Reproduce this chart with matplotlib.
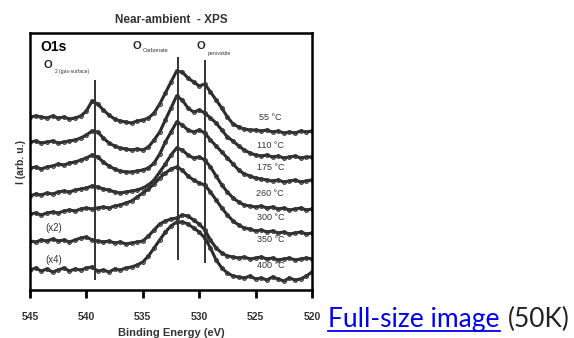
import matplotlib
matplotlib.use("Agg")
import matplotlib.pyplot as plt
from matplotlib.lines import Line2D
import numpy as np

# binding energy grid (eV), shared by all spectra
energy = [545, 544.5, 544, 543.5, 543, 542.5, 542, 541.5, 541, 540.5,
          540, 539.5, 539, 538.5, 538, 537.5, 537, 536.5, 536, 535.5,
          535, 534.5, 534, 533.5, 533, 532.5, 532, 531.5, 531, 530.5,
          530, 529.5, 529, 528.5, 528, 527.5, 527, 526.5, 526, 525.5,
          525, 524.5, 524, 523.5, 523, 522.5, 522, 521.5, 521, 520.5, 520]

# stacked O1s spectra (arb. u., offsets included)
i_55 = [173, 174, 173, 172, 174, 172, 173, 171, 172, 174, 179, 189, 186, 180, 175, 171, 169,
        168, 167, 169, 170, 172, 177, 186, 197, 208, 219, 218, 212, 208, 204, 206, 198, 190,
        182, 173, 166, 163, 161, 160, 160, 159, 160, 158, 159, 157, 158, 157, 159, 158, 159]
i_110 = [148, 149, 147, 148, 149, 147, 148, 149, 150, 152, 155, 159, 158, 152, 147, 144, 142,
         141, 140, 141, 140, 143, 150, 158, 170, 182, 194, 190, 182, 178, 180, 177, 172, 167,
         160, 153, 149, 144, 140, 137, 135, 134, 135, 133, 134, 132, 133, 134, 132, 133, 133]
i_175 = [122, 123, 121, 123, 124, 126, 125, 127, 128, 130, 132, 135, 133, 128, 124, 121, 119,
         118, 118, 119, 120, 122, 127, 136, 148, 158, 168, 165, 160, 158, 160, 157, 150, 144,
         138, 132, 126, 120, 116, 114, 112, 111, 110, 109, 110, 108, 109, 110, 108, 109, 110]
i_260 = [94, 96, 95, 97, 96, 98, 99, 98, 100, 101, 102, 104, 103, 101, 100, 98, 97,
         98, 99, 100, 102, 105, 110, 118, 126, 135, 142, 140, 135, 132, 133, 130, 123, 114,
         105, 98, 92, 88, 85, 84, 83, 84, 82, 83, 81, 82, 80, 81, 82, 80, 81]
i_300 = [76, 77, 75, 77, 78, 77, 79, 80, 79, 81, 82, 81, 82, 83, 82, 84, 85,
         87, 89, 93, 97, 101, 106, 112, 117, 121, 123, 120, 114, 110, 107, 105, 98, 90,
         82, 75, 69, 65, 62, 61, 59, 60, 58, 59, 57, 58, 56, 57, 58, 56, 57]
i_350 = [49, 48, 50, 49, 51, 49, 50, 48, 50, 52, 53, 50, 49, 48, 49, 47, 48,
         46, 47, 48, 49, 54, 60, 66, 69, 71, 72, 75, 74, 70, 66, 60, 50, 42,
         37, 34, 33, 32, 33, 31, 32, 33, 31, 32, 30, 31, 32, 30, 31, 32, 31]
i_400 = [20, 22, 19, 21, 18, 20, 22, 19, 21, 20, 22, 23, 19, 20, 18, 21, 20,
         22, 23, 25, 28, 34, 42, 50, 58, 64, 68, 68, 66, 62, 58, 52, 42, 30,
         22, 17, 14, 13, 12, 14, 11, 12, 10, 13, 11, 9, 12, 10, 11, 14, 18]

spectra = [i_55, i_110, i_175, i_260, i_300, i_350, i_400]
temp_labels = ["55 °C", "110 °C", "175 °C", "260 °C", "300 °C", "350 °C", "400 °C"]
label_y = [173, 145, 122, 97, 73, 50, 24]

# reference lines: (energy, bottom, top)
peak_lines = [(539.2, 10, 210), (531.9, 30, 233), (529.5, 27, 230)]

plt.rcParams["font.family"] = ["Liberation Sans", "DejaVu Sans"]

fig = plt.figure(figsize=(5.74, 3.38), dpi=100)
ax = fig.add_axes([30 / 574, 48 / 338, 282 / 574, 257 / 338])

for s in spectra:
    ax.plot(energy, s, color="#2a2a2a", lw=2.2, solid_joinstyle="round",
            marker="o", ms=2.6, mfc="none", mec="#3a3a3a", mew=0.9)

for e, y0, y1 in peak_lines:
    ax.vlines(e, y0, y1, color="#333333", lw=1.4)

for lab, y in zip(temp_labels, label_y):
    ax.text(523.7, y, lab, ha="center", va="center", fontsize=6.5, color="#333333")

ax.text(542.9, 62, "(x2)", ha="center", va="center", fontsize=7, color="#333333")
ax.text(542.9, 30, "(x4)", ha="center", va="center", fontsize=7, color="#333333")

ax.text(542.95, 243, "O1s", ha="center", va="center", fontsize=10, fontweight="bold")
ax.text(543.4, 225, "O", ha="center", va="center", fontsize=8, fontweight="bold", color="#222222")
ax.text(542.8, 218, "2 (gas-surface)", ha="left", va="center", fontsize=3.6, color="#333333")
ax.text(535.5, 244, "O", ha="center", va="center", fontsize=8, fontweight="bold", color="#222222")
ax.text(535.0, 239, "Carbonate", ha="left", va="center", fontsize=4, color="#333333")
ax.text(529.85, 244, "O", ha="center", va="center", fontsize=8, fontweight="bold", color="#222222")
ax.text(529.25, 237, "perovskite", ha="left", va="center", fontsize=3.6, color="#333333")

ax.set_xlim(545, 520)
ax.set_ylim(0, 257)
ax.set_xticks([545, 540, 535, 530, 525, 520])
ax.set_yticks([])
ax.tick_params(axis="x", direction="out", length=6, width=2.0, pad=10,
               labelsize=7.5, labelcolor="#333333")
for lab in ax.get_xticklabels():
    lab.set_fontweight("bold")
for sp in ax.spines.values():
    sp.set_linewidth(1.8)

ax.set_xlabel("Binding Energy (eV)", fontsize=8, fontweight="bold", color="#333333", labelpad=4)
ax.set_ylabel("I (arb. u.)", fontsize=7.5, fontweight="bold", color="#333333", labelpad=3)
ax.set_title("Near-ambient  - XPS", fontsize=8.5, fontweight="bold", color="#333333", pad=7)

# link text beside the thumbnail
link = fig.text(328 / 574, 11 / 338, "Full-size image", color="#0000EE",
                fontsize=19, family="Lato", va="baseline", ha="left")
fig.canvas.draw()
r = fig.canvas.get_renderer()
bb = link.get_window_extent(r)
fig.text(bb.x1 / 574 + 0.014, 11 / 338, "(50K)", color="#222222",
         fontsize=19, family="Lato", va="baseline", ha="left")
fig.add_artist(Line2D([bb.x0 / 574, bb.x1 / 574], [7 / 338, 7 / 338],
                      color="#0000EE", lw=1.3, transform=fig.transFigure))

fig.savefig("out.png", dpi=100)
